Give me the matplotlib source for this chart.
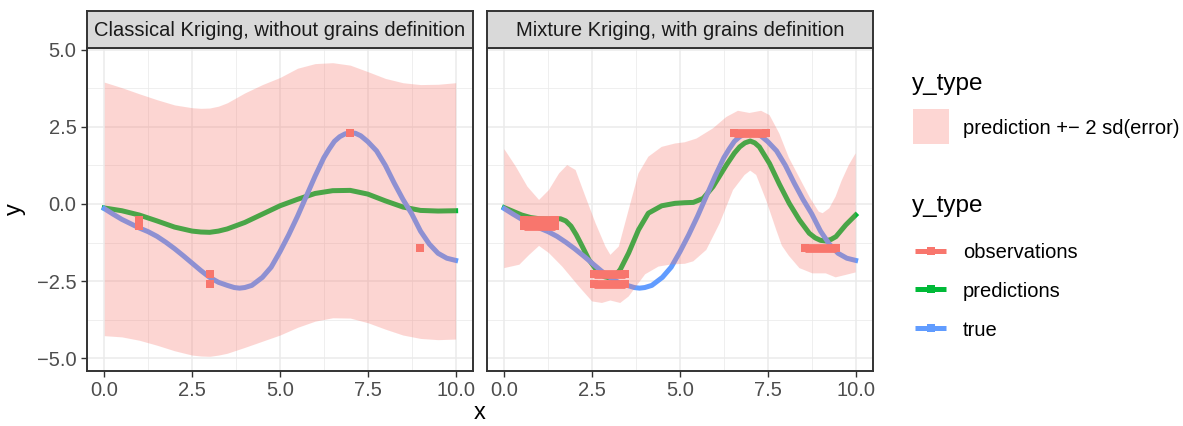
import numpy as np
import matplotlib
matplotlib.use('Agg')
import matplotlib.pyplot as plt
from matplotlib.lines import Line2D
from matplotlib.patches import Rectangle

plt.rcParams['font.family'] = ['Liberation Sans', 'DejaVu Sans']

W, H = 1183, 426

# ---- data ----
# true function (same in both panels)
true_x = [0, 0.25, 0.5, 0.75, 1.0, 1.25, 1.5, 1.75, 2.0, 2.25, 2.5, 2.75, 3.0, 3.25,
          3.5, 3.7, 3.85, 4.0, 4.2, 4.5, 4.75, 5.0, 5.25, 5.5, 5.75, 6.0, 6.25, 6.4,
          6.55, 6.7, 6.85, 7.0, 7.15, 7.3, 7.5, 7.75, 8.0, 8.25, 8.5, 8.75, 9.0, 9.25,
          9.5, 9.75, 10]
true_y = [-0.15, -0.33, -0.50, -0.64, -0.78, -0.90, -1.05, -1.24, -1.45, -1.68, -1.92,
          -2.16, -2.38, -2.54, -2.64, -2.71, -2.73, -2.71, -2.64, -2.38, -2.05, -1.55,
          -1.00, -0.40, 0.25, 0.90, 1.50, 1.78, 2.03, 2.18, 2.27, 2.31, 2.29, 2.21,
          2.02, 1.72, 1.25, 0.68, 0.15, -0.32, -0.88, -1.30, -1.60, -1.76, -1.83]

# classical kriging
ck_x = [0, 0.5, 1.0, 1.5, 2.0, 2.5, 2.75, 3.0, 3.25, 3.5, 4.0, 4.5, 5.0,
        5.5, 6.0, 6.5, 7.0, 7.5, 8.0, 8.5, 9.0, 9.5, 10]
ck_pred = [-0.13, -0.22, -0.36, -0.55, -0.75, -0.88, -0.91, -0.92, -0.88, -0.81, -0.60,
           -0.33, -0.06, 0.15, 0.34, 0.43, 0.44, 0.32, 0.10, -0.10, -0.21, -0.23, -0.22]
ck_hi = [3.95, 3.77, 3.57, 3.38, 3.21, 3.12, 3.10, 3.11, 3.17, 3.28, 3.60, 3.87, 4.10,
         4.40, 4.55, 4.58, 4.50, 4.29, 4.07, 3.93, 3.87, 3.88, 3.93]
ck_lo = [-4.27, -4.31, -4.42, -4.58, -4.76, -4.90, -4.93, -4.94, -4.90, -4.84, -4.65,
         -4.45, -4.25, -4.00, -3.80, -3.69, -3.70, -3.85, -4.06, -4.25, -4.36, -4.40,
         -4.38]

# mixture kriging
mk_pred_x = [0, 0.25, 0.5, 0.75, 1.0, 1.25, 1.6, 1.75, 1.9, 2.05, 2.2, 2.41, 2.69, 2.85,
             3.02, 3.15, 3.3, 3.54, 3.82, 4.1, 4.48, 4.86, 5.14, 5.38, 5.66, 5.94, 6.32,
             6.55, 6.7, 6.85, 7.0, 7.13, 7.26, 7.55, 7.83, 8.11, 8.4, 8.68, 8.85, 9.0,
             9.15, 9.3, 9.44, 9.72, 10]
mk_pred_y = [-0.12, -0.24, -0.36, -0.44, -0.48, -0.49, -0.48, -0.55, -0.72, -1.00, -1.33,
             -1.81, -2.24, -2.36, -2.40, -2.33, -2.13, -1.59, -0.84, -0.30, -0.06, 0.02,
             0.04, 0.05, 0.18, 0.56, 1.26, 1.65, 1.85, 1.98, 2.04, 1.98, 1.85, 1.31, 0.64,
             0.02, -0.52, -0.95, -1.10, -1.18, -1.20, -1.15, -1.06, -0.68, -0.36]
mk_hi_x = [0, 0.33, 0.66, 0.99, 1.27, 1.56, 1.79, 2.03, 2.31, 2.6, 2.88, 3.02, 3.26, 3.54,
           3.82, 4.1, 4.48, 4.86, 5.14, 5.47, 5.94, 6.32, 6.65, 6.98, 7.31, 7.55, 7.83,
           8.1, 8.4, 8.7, 8.95, 9.06, 9.25, 9.43, 9.6, 9.8, 10]
mk_hi_y = [1.78, 1.21, 0.56, 0.13, 0.45, 0.99, 1.26, 1.10, 0.24, -0.63, -1.38, -1.65, -1.38,
           -0.19, 0.99, 1.53, 1.85, 1.96, 2.00, 2.12, 2.45, 2.82, 3.02, 2.95, 3.02, 2.88,
           2.28, 1.50, 0.85, 0.20, -0.25, -0.30, -0.14, 0.24, 0.75, 1.25, 1.64]
mk_lo_x = [0, 0.43, 0.71, 0.99, 1.27, 1.65, 2.12, 2.5, 2.78, 3.02, 3.3, 3.54, 3.8, 4.01,
           4.39, 4.76, 5.14, 5.38, 5.75, 6.13, 6.51, 6.84, 7.0, 7.17, 7.45, 7.74, 7.9,
           8.1, 8.4, 8.77, 9.15, 9.43, 9.72, 10]
mk_lo_y = [-2.08, -1.97, -1.65, -1.36, -1.59, -2.03, -2.67, -3.16, -3.21, -3.13, -3.21,
           -3.00, -2.60, -2.28, -2.03, -1.96, -1.94, -1.86, -1.49, -0.63, 0.45, 0.94,
           1.08, 0.94, 0.13, -0.84, -1.35, -1.68, -2.08, -2.25, -2.25, -2.38, -2.30,
           -2.22]

# observations: grain centre, grain bounds, observed value
obs_x = [1, 1, 3, 3, 7, 9]
obs_y = [-0.53, -0.70, -2.28, -2.60, 2.29, -1.43]
grain_lo = [0.55, 0.55, 2.55, 2.55, 6.55, 8.55]
grain_hi = [1.45, 1.45, 3.45, 3.45, 7.45, 9.45]

panel_titles = ['Classical Kriging, without grains definition',
                'Mixture Kriging, with grains definition']
x_ticks = [0, 2.5, 5, 7.5, 10]
x_ticklabels = ['0.0', '2.5', '5.0', '7.5', '10.0']
x_minor = [1.25, 3.75, 6.25, 8.75]
y_ticks = [-5, -2.5, 0, 2.5, 5]
y_ticklabels = ['\u22125.0', '\u22122.5', '0.0', '2.5', '5.0']
y_minor = [-3.75, -1.25, 1.25, 3.75]
legend_labels = ['observations', 'predictions', 'true']

RED, GREEN, BLUE = '#F8766D', '#00BA38', '#619CFF'
BAND_KEY = '#FDD6D3'
LW = 3.6
SQ = 6.3
SMALL = 14.5
BIG = 17.5


def frac(px, py, w=0, h=0):
    return [px / W, 1 - (py + h) / H, w / W, h / H]


# ggplot-like expansion of the limits
all_y = ck_lo + ck_hi + mk_lo_y + mk_hi_y
ylo, yhi = min(all_y), max(all_y)
ypad = 0.05 * (yhi - ylo)
xpad = 0.05 * (max(true_x) - min(true_x))

fig = plt.figure(figsize=(W / 100, H / 100), dpi=100)
fig.patch.set_facecolor('white')

panel_left = [86.7, 486.7]
panel_w = 386.5
panel_top, panel_bot = 48, 371
strip_top = 11

axes = []
for i in range(2):
    ax = fig.add_axes(frac(panel_left[i], panel_top, panel_w, panel_bot - panel_top))
    axes.append(ax)
    ax.set_xlim(min(true_x) - xpad, max(true_x) + xpad)
    ax.set_ylim(ylo - ypad, yhi + ypad)
    ax.set_xticks(x_ticks)
    ax.set_xticklabels(x_ticklabels)
    ax.set_xticks(x_minor, minor=True)
    ax.set_yticks(y_ticks)
    ax.set_yticklabels(y_ticklabels)
    ax.set_yticks(y_minor, minor=True)
    ax.set_axisbelow(True)
    ax.grid(which='major', color='#EBEBEB', lw=1.1)
    ax.grid(which='minor', color='#EBEBEB', lw=0.55)
    for sp in ax.spines.values():
        sp.set_color('#333333')
        sp.set_linewidth(1.4)
    ax.tick_params(which='major', length=4.4, width=1.0, color='#333333',
                   labelcolor='#4D4D4D', labelsize=SMALL, pad=3.0)
    ax.tick_params(which='minor', length=0)
    if i == 1:
        ax.tick_params(axis='y', which='both', left=False, labelleft=False)

    # strip
    sax = fig.add_axes(frac(panel_left[i], strip_top, panel_w, panel_top - strip_top))
    sax.set_facecolor('#D9D9D9')
    sax.set_xticks([])
    sax.set_yticks([])
    for sp in sax.spines.values():
        sp.set_color('#333333')
        sp.set_linewidth(1.4)
    sax.text(0.5, 0.47, panel_titles[i], ha='center', va='center',
             fontsize=SMALL, color='#1A1A1A', transform=sax.transAxes)

# left: classical kriging
ax = axes[0]
ax.plot(ck_x, ck_pred, color=GREEN, lw=LW, zorder=2, solid_joinstyle='round')
ax.plot(true_x, true_y, color=BLUE, lw=LW, zorder=3, solid_joinstyle='round')
ax.plot(obs_x, obs_y, ls='none', marker='s', ms=SQ, mew=0, color=RED, zorder=4)
ax.fill_between(ck_x, ck_lo, ck_hi, color=RED, alpha=0.3, lw=0, zorder=5)

# right: mixture kriging
ax = axes[1]
ax.plot(mk_pred_x, mk_pred_y, color=GREEN, lw=LW, zorder=2, solid_joinstyle='round')
ax.plot(true_x, true_y, color=BLUE, lw=LW, zorder=3, solid_joinstyle='round')
for lo, hi, v in zip(grain_lo, grain_hi, obs_y):
    ax.plot([lo, hi], [v, v], color=RED, lw=SQ, solid_capstyle='butt',
            marker='s', ms=SQ, mew=0, zorder=4)
band_x = np.concatenate([mk_hi_x, mk_lo_x[::-1]])
band_y = np.concatenate([mk_hi_y, mk_lo_y[::-1]])
ax.fill(band_x, band_y, color=RED, alpha=0.3, lw=0, zorder=5)

# axis titles
fig.text(480 / W, 1 - 419 / H, 'x', ha='center', va='baseline', fontsize=BIG - 0.5)
fig.text(15 / W, 1 - 209.5 / H, 'y', ha='center', va='center', rotation=90,
         fontsize=BIG - 0.5)

# legends
fig.text(912 / W, 1 - 90 / H, 'y_type', ha='left', va='baseline', fontsize=BIG)
fig.add_artist(Rectangle((912.7 / W, 1 - 144.3 / H), 36.3 / W, 35.3 / H,
                         transform=fig.transFigure, facecolor=BAND_KEY, lw=0))
fig.text(962.7 / W, 1 - 133.7 / H, 'prediction +\u2212 2 sd(error)', ha='left',
         va='baseline', fontsize=SMALL)

fig.text(912 / W, 1 - 212 / H, 'y_type', ha='left', va='baseline', fontsize=BIG)
key_y = [250.7, 289.3, 328.3]
for lab, col, ky in zip(legend_labels, [RED, GREEN, BLUE], key_y):
    fig.add_artist(Line2D([915 / W, 946 / W], [1 - ky / H, 1 - ky / H],
                          transform=fig.transFigure, color=col, lw=LW,
                          solid_capstyle='butt'))
    fig.add_artist(Line2D([930.5 / W], [1 - ky / H], transform=fig.transFigure,
                          ls='none', marker='s', ms=SQ, mew=0, color=col))
    fig.text(962.7 / W, 1 - (ky + 7.7) / H, lab, ha='left', va='baseline',
             fontsize=SMALL)

fig.savefig('out.png', dpi=100, facecolor='white')
